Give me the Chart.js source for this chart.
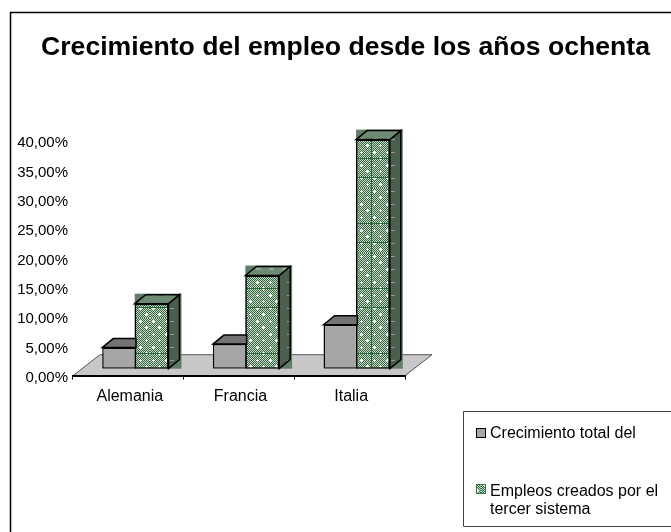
<!DOCTYPE html>
<html>
<head>
<meta charset="utf-8">
<title>Crecimiento del empleo</title>
<script src="https://cdn.jsdelivr.net/npm/chart.js@4"></script>
<style>
    html, body { margin: 0; background: #fff; }
    canvas { display: block; }
</style>
</head>
<body>
<canvas id="empleoChart" width="671" height="532"></canvas>
<script>
const chartTitle = 'Crecimiento del empleo desde los años ochenta';
const countries = ['Alemania', 'Francia', 'Italia'];
const totalGrowthName = 'Crecimiento total del';
const thirdSectorName = 'Empleos creados por el tercer sistema';
const totalGrowth = [3.6, 4.2, 7.5];
const thirdSector = [11.1, 15.9, 39.1];

const FONT = '"Liberation Sans", Arial, sans-serif';
const DEPTH_X = 11;
const DEPTH_Y = 9;
const FLOOR_X = 27;
const FLOOR_Y = 21;
const SHIFT_X = 7;
const SHIFT_Y = -7;

function makePattern(width, height, paint) {
    const tile = document.createElement('canvas');
    tile.width = width;
    tile.height = height;
    paint(tile.getContext('2d'));
    return tile.getContext('2d').createPattern(tile, 'repeat');
}

// fine green and white weave with staggered white dots
function paintWeave(c, width, height) {
    for (let y = 0; y < height; y++) {
        for (let x = 0; x < width; x++) {
            c.fillStyle = (x + y) % 2 ? '#35663f' : '#c8d8c9';
            c.fillRect(x, y, 1, 1);
        }
    }
    c.fillStyle = '#ffffff';
    for (let y = 0; y < height; y += 13) {
        for (let x = 0; x < width; x += 13) {
            c.fillRect(x + 3, y + 2, 1, 3);
            c.fillRect(x + 2, y + 3, 3, 1);
            c.fillRect(x + 9, y + 8, 1, 3);
            c.fillRect(x + 8, y + 9, 3, 1);
        }
    }
}

const swatchWeave = makePattern(13, 13, function (c) {
    paintWeave(c, 13, 13);
});

// the bar fill also carries a few thin dark green threads
const barWeave = makePattern(143, 65, function (c) {
    paintWeave(c, 143, 65);
    c.fillStyle = '#2a6a3a';
    c.fillRect(0, 35, 143, 1);
    c.fillRect(0, 54, 143, 1);
    c.fillRect(78, 0, 1, 65);
});

const sideWeave = makePattern(13, 13, function (c) {
    c.fillStyle = '#4b5f4e';
    c.fillRect(0, 0, 13, 13);
    c.fillStyle = '#8d9c8e';
    c.fillRect(7, 3, 4, 1);
});

const topWeave = makePattern(13, 13, function (c) {
    c.fillStyle = '#6f8a73';
    c.fillRect(0, 0, 13, 13);
    c.fillStyle = '#93a895';
    c.fillRect(2, 2, 5, 2);
});

function polygon(ctx, points, fill, stroke, lineWidth) {
    ctx.beginPath();
    points.forEach(function (p, i) {
        if (i === 0) ctx.moveTo(p[0], p[1]);
        else ctx.lineTo(p[0], p[1]);
    });
    ctx.closePath();
    if (fill) {
        ctx.fillStyle = fill;
        ctx.fill();
    }
    if (stroke) {
        ctx.strokeStyle = stroke;
        ctx.lineWidth = lineWidth;
        ctx.stroke();
    }
}

// side and top faces of a green bar, sized from the bar element itself
function drawGreenDepth(ctx, bar) {
    const left = bar.x - bar.width / 2;
    const right = bar.x + bar.width / 2;
    ctx.fillStyle = '#647d68';
    ctx.fillRect(left, bar.y - DEPTH_Y - 1, bar.width + DEPTH_X + 2, bar.base - bar.y + DEPTH_Y + 1);
    polygon(ctx, [[right, bar.y], [right + DEPTH_X, bar.y - DEPTH_Y], [right + DEPTH_X, bar.base - DEPTH_Y], [right, bar.base]], sideWeave, '#000', 1.5);
    polygon(ctx, [[left, bar.y], [left + DEPTH_X, bar.y - DEPTH_Y], [right + DEPTH_X, bar.y - DEPTH_Y], [right, bar.y]], topWeave, '#000', 1.5);
}

// the grey bars stand against the green ones, only their top shows
function drawGreyTop(ctx, bar) {
    const left = bar.x - bar.width / 2;
    const right = bar.x + bar.width / 2;
    polygon(ctx, [[left, bar.y], [left + DEPTH_X, bar.y - DEPTH_Y], [right, bar.y - DEPTH_Y], [right, bar.y]], '#737373', '#000', 1.5);
}

const sceneryPlugin = {
    id: 'scenery',
    beforeDraw(chart) {
        const ctx = chart.ctx;
        const x = chart.scales.x;
        const zero = chart.scales.y.getPixelForValue(0);
        ctx.save();
        ctx.fillStyle = '#fff';
        ctx.fillRect(0, 0, chart.width, chart.height);

        // outer frame, open to the right and bottom
        ctx.strokeStyle = '#000';
        ctx.lineWidth = 1.5;
        ctx.beginPath();
        ctx.moveTo(10.5, chart.height);
        ctx.lineTo(10.5, 12.5);
        ctx.lineTo(chart.width, 12.5);
        ctx.stroke();

        // floor of the 3D plot
        polygon(ctx, [
            [x.left, zero],
            [x.right, zero],
            [x.right + FLOOR_X, zero - FLOOR_Y],
            [x.left + FLOOR_X, zero - FLOOR_Y]
        ], '#c8c8c8', '#555', 1);
        ctx.restore();
    },
    beforeDatasetsDraw(chart) {
        chart.ctx.save();
        chart.ctx.translate(SHIFT_X, SHIFT_Y);
    },
    afterDatasetsDraw(chart) {
        chart.ctx.restore();
    },
    beforeDatasetDraw(chart, args) {
        const ctx = chart.ctx;
        ctx.save();
        args.meta.data.forEach(function (bar) {
            if (args.index === 1) drawGreenDepth(ctx, bar);
            else drawGreyTop(ctx, bar);
        });
        ctx.restore();
    },
    afterDraw(chart) {
        const ctx = chart.ctx;
        ctx.save();

        // legend box
        ctx.strokeStyle = '#444';
        ctx.lineWidth = 1;
        ctx.beginPath();
        ctx.moveTo(chart.width, 411.5);
        ctx.lineTo(463.5, 411.5);
        ctx.lineTo(463.5, 526.5);
        ctx.lineTo(chart.width, 526.5);
        ctx.stroke();

        ctx.font = '16px ' + FONT;
        ctx.textBaseline = 'middle';
        ctx.fillStyle = '#000';
        ctx.fillText(totalGrowthName, 490, 433.5);
        const cut = thirdSectorName.indexOf(' tercer');
        ctx.fillText(thirdSectorName.slice(0, cut), 490, 492);
        ctx.fillText(thirdSectorName.slice(cut + 1), 490, 510);

        ctx.lineWidth = 1;
        ctx.strokeStyle = '#000';
        ctx.fillStyle = '#a6a6a6';
        ctx.fillRect(476.5, 428.5, 9, 9);
        ctx.strokeRect(476.5, 428.5, 9, 9);
        ctx.fillStyle = swatchWeave;
        ctx.fillRect(476.5, 484.5, 9, 9);
        ctx.strokeStyle = '#3d7a4c';
        ctx.strokeRect(476.5, 484.5, 9, 9);
        ctx.restore();
    }
};

new Chart(document.getElementById('empleoChart'), {
    type: 'bar',
    data: {
        labels: countries,
        datasets: [{
            label: totalGrowthName,
            data: totalGrowth,
            backgroundColor: '#a6a6a6',
            borderColor: '#000',
            borderWidth: 1.5,
            borderSkipped: false
        }, {
            label: thirdSectorName,
            data: thirdSector,
            backgroundColor: barWeave,
            borderColor: '#000',
            borderWidth: 1.5,
            borderSkipped: false
        }]
    },
    plugins: [sceneryPlugin],
    options: {
        responsive: false,
        animation: false,
        devicePixelRatio: 1,
        categoryPercentage: 0.587,
        barPercentage: 1.04,
        layout: {
            padding: { left: 14, right: -6 }
        },
        scales: {
            x: {
                grid: { drawOnChartArea: false, tickLength: 4, tickColor: '#000', tickWidth: 1 },
                border: { color: '#000', width: 2 },
                ticks: { color: '#000', font: { family: FONT, size: 16 }, padding: 7, labelOffset: 1.5, maxRotation: 0 },
                afterFit(scale) { scale.height = 156.3; }
            },
            y: {
                min: 0,
                max: 40,
                grid: { display: false, drawTicks: false },
                border: { display: false },
                ticks: {
                    stepSize: 5,
                    color: '#000',
                    font: { family: FONT, size: 15 },
                    padding: 5,
                    labelOffset: 2,
                    callback(value) {
                        return value.toFixed(2).replace('.', ',') + '%';
                    }
                },
                afterFit(scale) { scale.width = 59; }
            },
            // keeps the space on the right free for the legend box
            spacer: {
                position: 'right',
                grid: { display: false },
                border: { display: false },
                ticks: { display: false },
                afterFit(scale) { scale.width = 272; }
            }
        },
        plugins: {
            legend: { display: false },
            tooltip: { enabled: false },
            title: {
                display: true,
                text: chartTitle,
                color: '#000',
                font: { family: FONT, size: 26.6, weight: 'bold', lineHeight: 1.2 },
                padding: { top: 32, bottom: 77.4 }
            }
        }
    }
});
</script>
</body>
</html>
